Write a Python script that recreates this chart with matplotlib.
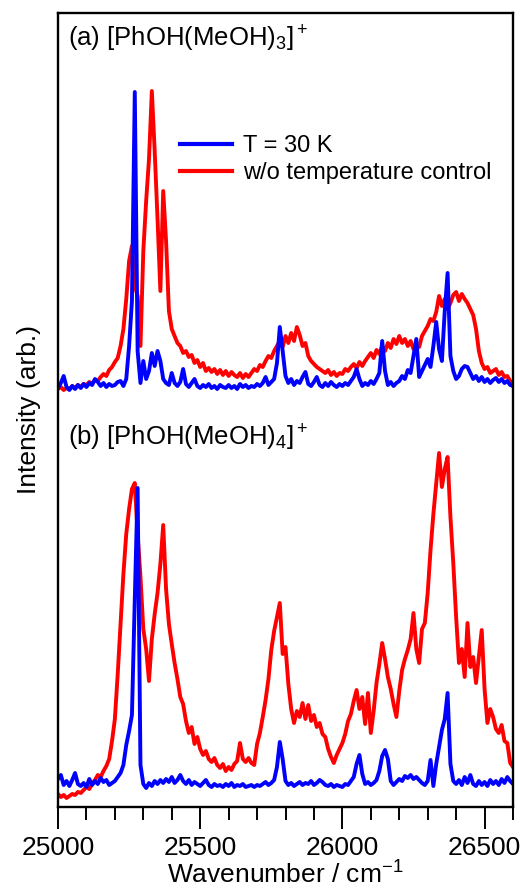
import numpy as np
import matplotlib
matplotlib.use("Agg")
import matplotlib.pyplot as plt
from matplotlib.ticker import MultipleLocator

plt.rcParams['font.family'] = ['Liberation Sans', 'DejaVu Sans']
plt.rcParams['mathtext.fontset'] = 'custom'
plt.rcParams['mathtext.rm'] = 'Liberation Sans'
plt.rcParams['mathtext.it'] = 'Liberation Sans:italic'
plt.rcParams['mathtext.bf'] = 'Liberation Sans:bold'

# wavenumber grid, 10 cm-1 steps
wavenumber = np.arange(25000, 26601, 10)

# (a) [PhOH(MeOH)3]+  -- intensities (arb.)
blue_a = [
    3, 8, 15, 4, 1, 5, 2, 6, 3, 7,
    4, 8, 6, 12, 9, 5, 8, 4, 7, 5,
    6, 9, 10, 5, 12, 45, 90, 299, 40, 8,
    30, 12, 20, 38, 25, 40, 30, 12, 8, 6,
    18, 8, 5, 9, 22, 7, 4, 8, 12, 5,
    3, 6, 4, 7, 3, 5, 2, 6, 4, 3,
    6, 3, 5, 2, 7, 4, 6, 3, 5, 4,
    7, 5, 8, 14, 6, 9, 12, 28, 64, 40,
    15, 8, 12, 6, 10, 8, 14, 19, 7, 5,
    9, 14, 6, 4, 8, 5, 9, 6, 4, 7,
    5, 8, 6, 10, 14, 22, 12, 5, 8, 6,
    10, 7, 12, 18, 50, 20, 6, 9, 5, 8,
    10, 15, 12, 21, 18, 35, 52, 14, 20, 26,
    32, 24, 45, 69, 42, 30, 80, 118, 35, 20,
    12, 15, 22, 25, 24, 18, 12, 15, 10, 14,
    9, 12, 8, 11, 13, 9, 12, 8, 10, 6,
    5]
red_a = [
    2, 4, 1, 3, 2, 5, 3, 6, 4, 7,
    6, 9, 7, 11, 10, 14, 17, 15, 21, 24,
    29, 33, 45, 62, 92, 130, 145, 105, 95, 45,
    140, 190, 232, 300, 240, 172, 100, 200, 150, 80,
    62, 55, 48, 45, 38, 40, 34, 36, 28, 31,
    24, 28, 20, 23, 19, 22, 17, 21, 16, 20,
    15, 19, 16, 14, 18, 13, 17, 14, 18, 22,
    20, 26, 24, 30, 35, 33, 40, 45, 50, 44,
    55, 48, 58, 50, 64, 56, 45, 48, 35, 30,
    27, 24, 22, 20, 18, 21, 16, 19, 15, 18,
    17, 22, 20, 24, 27, 23, 29, 25, 30, 34,
    38, 33, 41, 37, 45, 40, 48, 43, 52, 47,
    55, 48, 52, 45, 50, 42, 46, 44, 55, 60,
    65, 72, 70, 79, 95, 85, 92, 82, 88, 96,
    99, 90, 97, 92, 88, 82, 76, 62, 40, 28,
    22, 24, 18, 20, 22, 16, 19, 14, 15, 10,
    8]

# (b) [PhOH(MeOH)4]+
blue_b = [
    10, 14, 4, 8, 3, 9, 16, 5, 3, 6,
    2, 10, 4, 8, 5, 11, 7, 9, 4, 6,
    8, 12, 16, 24, 44, 58, 74, 190, 301, 24,
    5, 1, 6, 3, 8, 5, 9, 6, 10, 7,
    12, 6, 9, 14, 8, 5, 9, 4, 7, 5,
    3, 6, 9, 4, 2, 5, 3, 4, 2, 5,
    3, 6, 2, 4, 3, 5, 2, 3, 4, 2,
    4, 3, 5, 7, 4, 6, 9, 22, 47, 30,
    8, 4, 6, 3, 5, 7, 4, 6, 5, 8,
    4, 6, 9, 7, 4, 3, 5, 2, 4, 3,
    2, 5, 4, 8, 12, 25, 34, 15, 5, 7,
    4, 6, 9, 18, 33, 39, 30, 8, 4, 7,
    10, 8, 13, 11, 14, 10, 12, 9, 6, 4,
    8, 29, 3, 25, 42, 59, 70, 96, 25, 8,
    5, 9, 4, 12, 6, 14, 5, 3, 8, 4,
    7, 3, 9, 5, 8, 4, 10, 6, 12, 8,
    5]
red_b = [
    -5, -8, -6, -9, -7, -5, -6, -3, -4, -1,
    2, 0, 5, 9, 14, 12, 18, 23, 30, 48,
    70, 115, 165, 215, 255, 280, 300, 306, 255, 212,
    160, 140, 108, 150, 175, 196, 225, 264, 200, 165,
    145, 126, 110, 92, 85, 68, 56, 62, 45, 52,
    40, 34, 38, 30, 27, 31, 24, 21, 25, 18,
    22, 19, 25, 28, 46, 30, 27, 31, 26, 24,
    45, 56, 72, 89, 110, 139, 158, 172, 186, 135,
    142, 105, 80, 66, 78, 72, 86, 70, 84, 68,
    74, 62, 66, 55, 52, 40, 32, 26, 34, 40,
    46, 55, 68, 75, 88, 99, 80, 92, 65, 96,
    56, 78, 106, 125, 146, 130, 112, 100, 85, 72,
    98, 119, 130, 139, 150, 176, 140, 126, 160, 166,
    196, 239, 275, 306, 336, 302, 320, 332, 272, 226,
    172, 126, 140, 112, 166, 122, 132, 106, 132, 159,
    100, 66, 80, 72, 60, 56, 64, 48, 46, 26,
    22]

offset_a = 416   # vertical offset of trace (a)
offset_b = 18    # vertical offset of trace (b)

fig = plt.figure(figsize=(5.23, 8.93), dpi=100)
ax = fig.add_axes([58/523, 1 - 807/893, 455/523, 794/893])

lw = 2.8
ax.plot(wavenumber, np.array(red_a) + offset_a, color='#ff0000', lw=lw)
ax.plot(wavenumber, np.array(blue_a) + offset_a, color='#0000ff', lw=lw)
ax.plot(wavenumber, np.array(red_b) + offset_b, color='#ff0000', lw=lw,
        label='w/o temperature control')
ax.plot(wavenumber, np.array(blue_b) + offset_b, color='#0000ff', lw=lw,
        label='T = 30 K')

ax.set_xlim(25000, 26600)
ax.set_ylim(0, 794)

# axis styling
for s in ax.spines.values():
    s.set_linewidth(1.7)
ax.set_yticks([])
ax.xaxis.set_major_locator(MultipleLocator(500))
ax.xaxis.set_minor_locator(MultipleLocator(100))
ax.tick_params(axis='x', which='major', direction='out', length=16, width=1.4,
               labelsize=19, pad=5)
ax.tick_params(axis='x', which='minor', direction='out', length=9.5, width=1.4)

ax.set_xlabel('Wavenumber / cm$^{-1}$', fontsize=19, labelpad=1)
ax.set_ylabel('Intensity (arb.)', fontsize=19, labelpad=12)

ax.text(25035, 761, r'(a) [PhOH(MeOH)$_3$]$^+$', fontsize=18.5, va='baseline')
ax.text(25035, 361, r'(b) [PhOH(MeOH)$_4$]$^+$', fontsize=18.5, va='baseline')

h, l = ax.get_legend_handles_labels()
leg = ax.legend(h[::-1], l[::-1], loc='upper left', bbox_to_anchor=(0.268, 0.846),
                frameon=False, fontsize=17, handlelength=2.2, handletextpad=0.47,
                labelspacing=0.2, borderpad=0, borderaxespad=0)
for line in leg.get_lines():
    line.set_linewidth(3)

fig.savefig('out.png', dpi=100)
